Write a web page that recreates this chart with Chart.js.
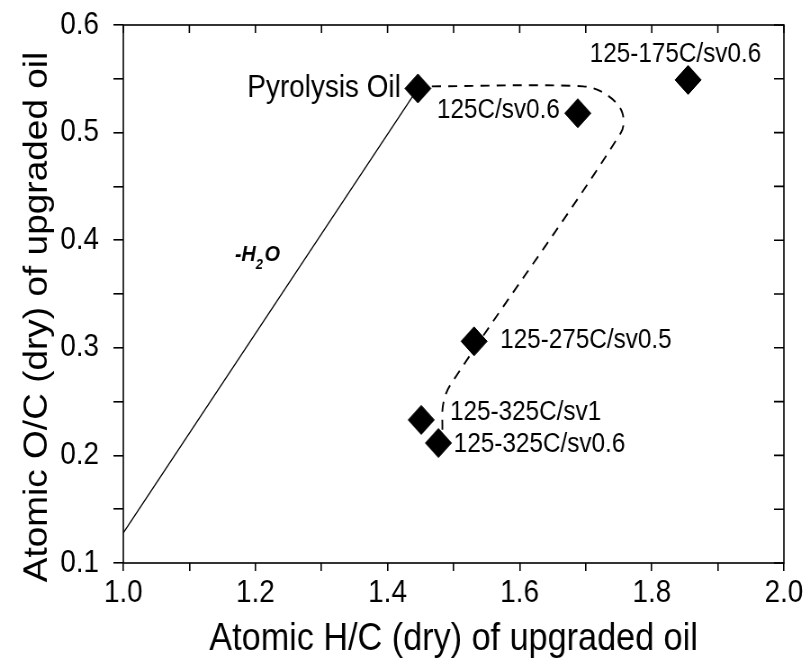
<!DOCTYPE html>
<html lang="en">
<head>
<meta charset="UTF-8">
<title>Atomic H/C vs O/C of upgraded oil</title>
<script src="https://cdn.jsdelivr.net/npm/chart.js@4.4.0/dist/chart.umd.min.js"></script>
<style>
  body { margin: 0; background: #fff; overflow: hidden; }
  /* the original figure is a bit narrow: draw wider, then squeeze */
  #wrap { width: 898px; height: 664px; transform: scaleX(0.9); transform-origin: 0 0; }
</style>
</head>
<body>
<div id="wrap"><canvas id="vk"></canvas></div>
<script>
// samples, atomic ratios (dry basis)
const names = ['Pyrolysis Oil', '125C/sv0.6', '125-175C/sv0.6', '125-275C/sv0.5', '125-325C/sv1', '125-325C/sv0.6'];
const hc = [1.446, 1.688, 1.855, 1.531, 1.451, 1.477];
const oc = [0.541, 0.518, 0.549, 0.306, 0.233, 0.2115];

// dehydration line (-H2O)
const waterHC = [1.0, 1.446];
const waterOC = [0.128, 0.541];

// dashed guide through the upgraded oils
const pathHC = [1.467, 1.696, 1.732, 1.755, 1.753, 1.495, 1.484, 1.483];
const pathOC = [0.543, 0.543, 0.535, 0.519, 0.4996, 0.2654, 0.2468, 0.2236];

const yTitle = 'Atomic O/C (dry) of upgraded oil';
const xTitle = 'Atomic H/C (dry) of upgraded oil';

const pts = (xs, ys) => xs.map((v, i) => ({ x: v, y: ys[i] }));

const FAMILY = '"Liberation Sans", Arial, sans-serif';

// where each sample's name sits relative to its marker: [dx, dy, align, size]
const labelPos = [
  [-19, 0, 'right', 31],
  [-20, -3, 'right', 27],
  [-14, -25, 'center', 27],
  [29, -1, 'left', 27],
  [32, -7, 'left', 27],
  [17, 2, 'left', 27]
];

const decor = {
  id: 'decor',
  afterDraw(chart) {
    const { ctx, chartArea: a, scales: { x, y } } = chart;
    ctx.save();
    ctx.strokeStyle = '#000';
    ctx.lineWidth = 1.6;
    ctx.strokeRect(a.left, a.top, a.right - a.left, a.bottom - a.top);
    // inward ticks on top and right
    ctx.beginPath();
    x.ticks.forEach(t => {
      const px = x.getPixelForValue(t.value);
      ctx.moveTo(px, a.top);
      ctx.lineTo(px, a.top + 8);
    });
    y.ticks.forEach(t => {
      const py = y.getPixelForValue(t.value);
      ctx.moveTo(a.right, py);
      ctx.lineTo(a.right - 11, py);
    });
    ctx.stroke();

    // sample names
    ctx.fillStyle = '#000';
    ctx.textBaseline = 'middle';
    names.forEach((n, i) => {
      const p = labelPos[i];
      ctx.font = p[3] + 'px ' + FAMILY;
      ctx.textAlign = p[2];
      ctx.fillText(n, x.getPixelForValue(hc[i]) + p[0], y.getPixelForValue(oc[i]) + p[1]);
    });

    // y axis title, sits a little below the middle in the original
    ctx.save();
    ctx.translate(42, 317);
    ctx.rotate(-Math.PI / 2);
    ctx.textAlign = 'center';
    ctx.font = '37px ' + FAMILY;
    ctx.fillText(yTitle, 0, 0);
    ctx.restore();

    // -H2O
    let tx = x.getPixelForValue(1.169);
    const ty = y.getPixelForValue(0.381);
    ctx.textAlign = 'left';
    ctx.textBaseline = 'alphabetic';
    ctx.font = 'italic bold 22px ' + FAMILY;
    ctx.fillText('-H', tx, ty);
    tx += ctx.measureText('-H').width;
    ctx.font = 'italic bold 14px ' + FAMILY;
    ctx.fillText('2', tx, ty + 8);
    tx += ctx.measureText('2').width;
    ctx.font = 'italic bold 22px ' + FAMILY;
    ctx.fillText('O', tx + 2, ty);
    ctx.restore();
  }
};

const tickFont = { family: FAMILY, size: 31 };

new Chart(document.getElementById('vk'), {
  type: 'scatter',
  data: {
    datasets: [
      {
        data: pts(hc, oc),
        pointStyle: 'rectRot',
        pointRadius: 14.5,
        pointHoverRadius: 14.5,
        backgroundColor: '#000',
        borderColor: '#000',
        borderWidth: 1,
        order: 0
      },
      {
        data: pts(waterHC, waterOC),
        showLine: true,
        pointRadius: 0,
        borderColor: '#000',
        borderWidth: 1.3,
        order: 1
      },
      {
        data: pts(pathHC, pathOC),
        showLine: true,
        pointRadius: 0,
        borderColor: '#000',
        borderWidth: 1.9,
        borderDash: [10, 8],
        tension: 0.35,
        order: 2
      }
    ]
  },
  options: {
    responsive: true,
    maintainAspectRatio: false,
    animation: false,
    layout: { padding: { top: 25, right: 27 } },
    plugins: {
      legend: { display: false },
      tooltip: { enabled: false }
    },
    scales: {
      x: {
        type: 'linear',
        min: 1,
        max: 2,
        ticks: {
          stepSize: 0.1,
          autoSkip: false,
          maxRotation: 0,
          color: '#000',
          font: tickFont,
          padding: 4,
          callback: v => Math.round(v * 10) % 2 === 0 ? v.toFixed(1) : ''
        },
        grid: { drawOnChartArea: false, tickLength: 8, color: '#000', lineWidth: 1.6 },
        border: { display: false },
        title: { display: true, text: xTitle, color: '#000', font: { family: FAMILY, size: 38 }, padding: { top: 0, bottom: 2 } },
        afterFit(s) {
          s.height = 101;
          s.paddingLeft = 0;
          s.paddingRight = 0;
        }
      },
      y: {
        type: 'linear',
        min: 0.1,
        max: 0.6,
        ticks: {
          stepSize: 0.05,
          autoSkip: false,
          color: '#000',
          font: tickFont,
          padding: 16,
          callback: v => Math.round(v * 100) % 10 === 0 ? v.toFixed(1) : ''
        },
        grid: { drawOnChartArea: false, tickLength: 11, color: '#000', lineWidth: 1.6 },
        border: { display: false },
        afterFit(s) {
          s.width = 137;
          s.paddingTop = 0;
          s.paddingBottom = 0;
        }
      }
    }
  },
  plugins: [decor]
});
</script>
</body>
</html>
